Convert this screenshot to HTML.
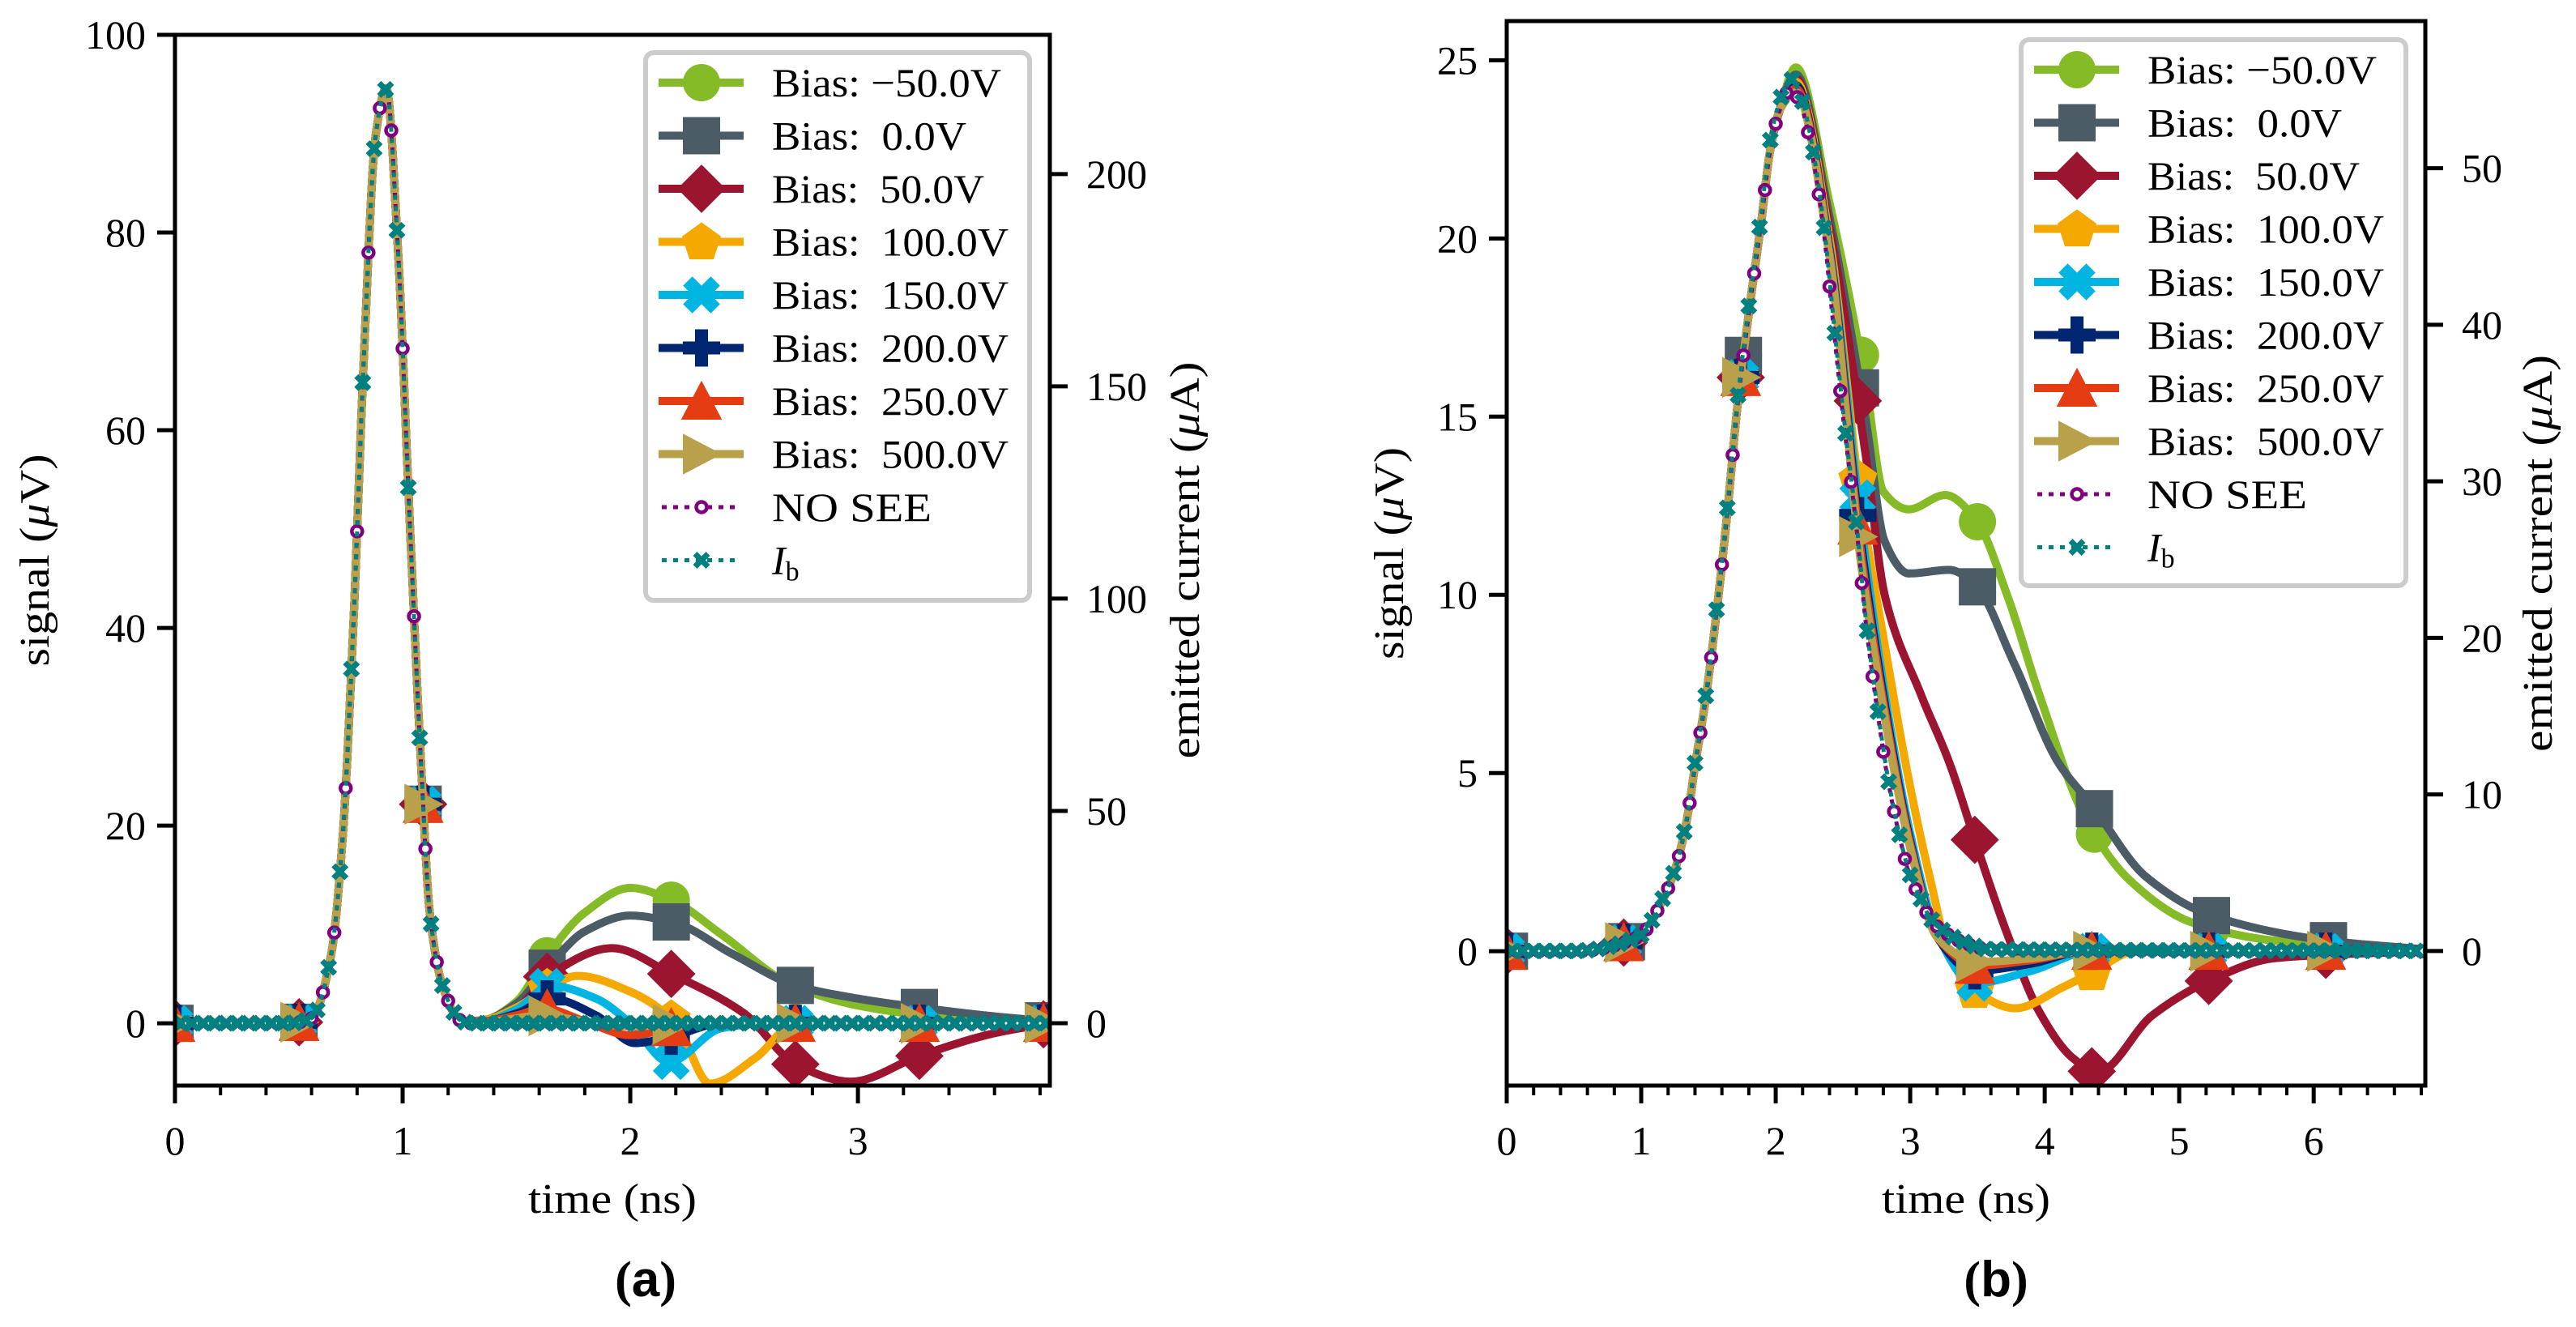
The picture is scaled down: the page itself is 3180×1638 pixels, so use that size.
<!DOCTYPE html>
<html><head><meta charset="utf-8"><style>
html,body{margin:0;padding:0;background:#fff;}
svg{display:block;font-family:"Liberation Serif",serif;}
</style></head><body>
<svg id="fig" xmlns="http://www.w3.org/2000/svg" width="3180" height="1638" viewBox="0 0 3180 1638"></svg>
<script>
// ---------- Panel (a) data ----------
const aMainT = [0,0.5,0.6,0.685,0.736,0.783,0.83,0.881,0.928,0.979,1.03,1.08,1.12,1.178,1.26,1.3];
const aMainV = [0,0,0.5,6.8,18.6,40,67.5,89.7,94.6,78.5,51.5,26.7,11,3.6,0.2,0];
const aTailT_m50 = [1.35,1.5,1.624,1.8,2.0,2.186,2.4,2.7,3.0,3.3,3.6,3.84];
const aTailV_m50 = [0.3,2.2,6.5,11.2,13.7,12.4,9.0,4.0,1.8,0.8,0.3,0];
const aTailT_0 = [1.35,1.5,1.636,1.8,2.0,2.19,2.45,2.73,3.0,3.27,3.6,3.84];
const aTailV_0 = [0.3,2.0,5.6,9.3,10.9,10.2,7.0,3.8,2.5,1.6,0.7,0.2];
const aTailT_50 = [1.35,1.5,1.64,1.92,2.18,2.5,2.73,2.97,3.27,3.6,3.84];
const aTailV_50 = [0.3,1.5,4.8,7.6,5.0,1.0,-4.2,-5.9,-3.3,-1.0,0];
const aTailT_100 = [1.35,1.5,1.65,1.77,2.0,2.2,2.35,2.55,2.73,3.0,3.84];
const aTailV_100 = [0.3,1.6,3.8,4.8,3.2,0,-6.1,-3.5,0,0,0];
const aTailT_150 = [1.35,1.5,1.65,1.85,2.0,2.17,2.4,2.6,3.84];
const aTailV_150 = [0.2,1.4,3.8,2.5,0,-3.9,-0.5,0,0];
const aTailT_200 = [1.35,1.5,1.65,1.85,2.02,2.2,2.4,3.84];
const aTailV_200 = [0.2,1.0,2.5,0.8,-2.0,-1.2,0,0];
const aTailT_250 = [1.35,1.5,1.62,1.8,2.0,2.3,3.84];
const aTailV_250 = [0.2,0.8,1.5,0.2,-1.2,0,0];
const aTailT_500 = [1.35,1.5,1.6,1.8,2.0,2.3,3.84];
const aTailV_500 = [0.1,0.5,0.8,0.2,-0.3,0,0];
const aIbT = [0,0.5,0.6,0.685,0.736,0.783,0.83,0.881,0.928,0.979,1.03,1.08,1.12,1.178,1.26,1.3,3.84];
const aIbV = [0,0,1.2,15.8,43.3,93,157,209,220,183,120,62,25.6,8.4,0.5,0,0]; // µA

// ---------- Panel (b) data ----------
const bRiseT = [0,0.5,0.978,1.18,1.26,1.34,1.40,1.48,1.56,1.64,1.71,1.80,1.89,1.96,2.03];
const bRiseV = [0,0,0.4,1.6,2.4,3.7,5.2,7.1,9.5,12.3,15.1,17.9,20.4,22.5,23.6];
const bMainT = [2.11,2.19,2.27,2.36,2.43,2.51,2.60,2.67,2.75,2.83,2.91,2.99,3.07,3.15,3.23,3.39,3.6,6.83];
const bMainV = [24.2,23.7,22.4,20.1,17.5,14.7,11.9,9.2,6.9,4.9,3.4,2.2,1.5,0.9,0.6,0.25,0.05,0];
const bTailT_m50 = [2.15,2.4,2.67,2.8,2.99,3.26,3.49,3.72,3.96,4.3,4.63,5.1,5.7,6.83];
const bTailV_m50 = [24.8,21.0,15.9,12.9,12.4,12.8,12.1,10.0,7.2,3.75,2.0,0.8,0.3,0];
const bTailT_0 = [2.15,2.4,2.67,2.81,2.99,3.29,3.48,3.77,4.1,4.35,4.75,5.24,6.1,6.83];
const bTailV_0 = [24.6,20.6,14.9,11.5,10.6,10.7,10.3,8.1,5.3,4.1,2.1,1.0,0.3,0.05];
const bTailT_50 = [2.15,2.4,2.67,2.81,3.08,3.29,3.5,3.72,3.96,4.21,4.39,4.8,5.24,5.7,6.1,6.83];
const bTailV_50 = [24.5,20.3,13.9,10.0,7.2,5.3,2.9,0.5,-1.7,-3.0,-3.4,-1.8,-0.8,-0.2,-0.1,0];
const bTailT_100 = [2.15,2.4,2.63,2.81,2.99,3.15,3.3,3.48,3.78,4.14,4.35,4.68,6.83];
const bTailV_100 = [24.4,20.0,12.7,8.6,4.8,2.0,-0.2,-1.1,-1.6,-1.0,-0.6,0,0];
const bTailT_150 = [2.15,2.4,2.63,2.8,3.0,3.2,3.47,3.9,4.35,6.83];
const bTailV_150 = [24.3,19.8,12.1,7.5,3.3,0.5,-0.9,-0.55,0,0];
const bTailT_200 = [2.15,2.4,2.63,2.8,3.0,3.2,3.47,3.9,4.3,6.83];
const bTailV_200 = [24.3,19.7,11.6,7.2,3.1,0.4,-0.55,-0.35,0,0];
const bTailT_250 = [2.15,2.4,2.63,2.8,3.0,3.2,3.5,3.9,4.3,6.83];
const bTailV_250 = [24.2,19.6,11.3,7.0,3.0,0.4,-0.4,-0.25,0,0];
const bTailT_500 = [2.15,2.4,2.63,2.8,3.0,3.2,3.5,3.9,4.3,6.83];
const bTailV_500 = [24.1,19.5,11.0,6.8,2.9,0.4,-0.3,-0.2,0,0];
const bIbT = [0,0.5,0.978,1.18,1.26,1.34,1.40,1.48,1.56,1.64,1.71,1.80,1.89,1.96,2.03,2.11,2.19,2.27,2.36,2.43,2.51,2.60,2.67,2.75,2.83,2.91,2.99,3.07,3.15,3.23,3.39,3.6,6.83];
const bIbV = [0,0,0.9,3.7,5.5,8.5,12,16.3,21.8,28.3,34.7,41.2,46.9,51.8,54.3,55.7,54.5,51.5,46.2,40.3,33.8,27.4,21.2,15.9,11.3,7.8,5.1,3.5,2.1,1.4,0.6,0.1,0]; // µA

const seriesLabels = ["Bias: \u221250.0V","Bias:  0.0V","Bias:  50.0V","Bias:  100.0V","Bias:  150.0V","Bias:  200.0V","Bias:  250.0V","Bias:  500.0V"];
const labelWidths = [283,240,262,292,292,292,292,292];
const seriesColors = ["#84bb26","#4b5c66","#9b1530","#f5a800","#00b5e2","#002672","#e63c14","#b9a04a"];
const seriesMarkers = ["circle","square","diamond","pentagon","X","P","triup","triright"];
const aTickX = [0,1,2,3], aTickY = [0,20,40,60,80,100], aTickR = [0,50,100,150,200];
const bTickX = [0,1,2,3,4,5,6], bTickY = [0,5,10,15,20,25], bTickR = [0,10,20,30,40,50];

// ---------- helpers ----------
const NS="http://www.w3.org/2000/svg";
const svg=document.getElementById('fig');
function mk(tag,attrs,parent){const e=document.createElementNS(NS,tag);for(const k in attrs)e.setAttribute(k,attrs[k]);(parent||svg).appendChild(e);return e;}
function interp(T,V){ // monotone cubic
  const n=T.length,d=[],m=[];
  for(let i=0;i<n-1;i++)d.push((V[i+1]-V[i])/(T[i+1]-T[i]));
  m[0]=d[0];m[n-1]=d[n-2];
  for(let i=1;i<n-1;i++){ if(d[i-1]*d[i]<=0)m[i]=0; else { const w1=2*(T[i+1]-T[i])+(T[i]-T[i-1]), w2=(T[i+1]-T[i])+2*(T[i]-T[i-1]); m[i]=(w1+w2)/(w1/d[i-1]+w2/d[i]);} }
  return function(t){
    if(t<=T[0])return V[0]; if(t>=T[n-1])return V[n-1];
    let i=0;while(t>T[i+1])i++;
    const h=T[i+1]-T[i],s=(t-T[i])/h,s2=s*s,s3=s2*s;
    return (2*s3-3*s2+1)*V[i]+(s3-2*s2+s)*h*m[i]+(-2*s3+3*s2)*V[i+1]+(s3-s2)*h*m[i+1];
  };
}
function marker(g,type,cx,cy,size,color,name){
  const r=size/2;let e;
  if(type==="circle")e=mk('circle',{cx:cx,cy:cy,r:r,fill:color},g);
  else if(type==="square")e=mk('rect',{x:cx-r,y:cy-r,width:size,height:size,fill:color},g);
  else {
    let pts;
    if(type==="diamond")pts=[[0,-1.3],[1.3,0],[0,1.3],[-1.3,0]];
    else if(type==="pentagon"){pts=[];for(let k=0;k<5;k++){const a=-Math.PI/2+k*2*Math.PI/5;pts.push([1.1*Math.cos(a),1.1*Math.sin(a)+0.05]);}}
    else if(type==="triup")pts=[[0,-1.1],[1.1,1],[-1.1,1]];
    else if(type==="triright")pts=[[1.1,0],[-1,-1.1],[-1,1.1]];
    else if(type==="P"){const a=0.35,b=1;pts=[[-a,-b],[a,-b],[a,-a],[b,-a],[b,a],[a,a],[a,b],[-a,b],[-a,a],[-b,a],[-b,-a],[-a,-a]];}
    else if(type==="X"){const q=0.35,b=1.05;const base=[[-q,-b],[q,-b],[q,-q],[b,-q],[b,q],[q,q],[q,b],[-q,b],[-q,q],[-b,q],[-b,-q],[-q,-q]];
      const c=Math.cos(Math.PI/4),s=Math.sin(Math.PI/4);pts=base.map(([x,y])=>[x*c-y*s,x*s+y*c]);}
    e=mk('polygon',{points:pts.map(([x,y])=>(cx+x*r)+','+(cy+y*r)).join(' '),fill:color},g);
  }
  
  
  return e;
}
function smallCircle(g,cx,cy,color,name){
  const e=mk('circle',{cx:cx,cy:cy,r:6.5,fill:'#fff',stroke:color,'stroke-width':4.5},g);
  
  
}
function smallX(g,cx,cy,color,name){
  const e=mk('path',{d:`M${cx-8},${cy-8}L${cx+8},${cy+8}M${cx-8},${cy+8}L${cx+8},${cy-8}`,stroke:color,'stroke-width':7,fill:'none'},g);
  
  
}
function txt(x,y,s,opts,parent){const e=mk('text',Object.assign({x:x,y:y,'font-size':50,'fill':'#000'},opts||{}),parent);e.textContent=s;return e;}

function panel(cfg){
  const g=mk('g',{});
  
  
  const X=t=>cfg.L+(t-cfg.x0)/(cfg.x1-cfg.x0)*(cfg.R-cfg.L);
  const Y=v=>cfg.B-(v-cfg.y0)/(cfg.y1-cfg.y0)*(cfg.B-cfg.T);
  const YR=v=>cfg.B-(v-cfg.r0)/(cfg.r1-cfg.r0)*(cfg.B-cfg.T);
  const clipId=cfg.name+'-clip';
  const cp=mk('clipPath',{id:clipId},g);mk('rect',{x:cfg.L,y:cfg.T,width:cfg.R-cfg.L,height:cfg.B-cfg.T},cp);
  const plot=mk('g',{'clip-path':`url(#${clipId})`},g);
  
  
  cfg.series.forEach((s,i)=>{
    const f=interp(s.T,s.V);
    const sg=mk('g',{},plot);
    
    
    let d='';for(let t=cfg.x0;t<=cfg.x1+1e-9;t+=0.004){d+=(d?'L':'M')+X(t).toFixed(1)+','+Y(f(t)).toFixed(1);}
    const p=mk('path',{d:d,fill:'none',stroke:seriesColors[i],'stroke-width':10,'stroke-linejoin':'round'},sg);
    
    
    for(let t=cfg.mOff[i];t<=cfg.x1+0.01;t+=cfg.mStep){marker(sg,seriesMarkers[i],X(t),Y(f(t)),46,seriesColors[i],'series-marker');}
  });
  const fn=interp(cfg.noT,cfg.noV);
  let d='';for(let t=cfg.x0;t<=cfg.x1+1e-9;t+=0.004){d+=(d?'L':'M')+X(t).toFixed(1)+','+Y(fn(t)).toFixed(1);}
  const ng=mk('g',{},plot);
  
  
  mk('path',{d:d,fill:'none',stroke:'#800080','stroke-width':5,'stroke-dasharray':'6,8'},ng);
  for(let t=0;t<=cfg.x1;t+=cfg.dStep)smallCircle(ng,X(t),Y(fn(t)),'#800080','no-see-marker');
  const fi=interp(cfg.ibT,cfg.ibV);
  d='';for(let t=cfg.x0;t<=cfg.x1+1e-9;t+=0.004){d+=(d?'L':'M')+X(t).toFixed(1)+','+YR(fi(t)).toFixed(1);}
  const ig=mk('g',{},plot);
  
  
  mk('path',{d:d,fill:'none',stroke:'#008080','stroke-width':5,'stroke-dasharray':'6,8'},ig);
  for(let t=cfg.dStep/2;t<=cfg.x1;t+=cfg.dStep)smallX(ig,X(t),YR(fi(t)),'#008080','ib-marker');
  const fr=mk('rect',{x:cfg.L,y:cfg.T,width:cfg.R-cfg.L,height:cfg.B-cfg.T,fill:'none',stroke:'#000','stroke-width':5},g);
  
  
  cfg.tickX.forEach(v=>{mk('line',{x1:X(v),x2:X(v),y1:cfg.B,y2:cfg.B+22,stroke:'#000','stroke-width':5},g);
    const t=txt(X(v),1425,String(v),{'text-anchor':'middle'},g);});
  for(let v=0;v<=cfg.x1;v+=0.2){if(Math.abs(v-Math.round(v))>1e-6)mk('line',{x1:X(v),x2:X(v),y1:cfg.B,y2:cfg.B+12,stroke:'#000','stroke-width':4},g);}
  cfg.tickY.forEach(v=>{mk('line',{x1:cfg.L-22,x2:cfg.L,y1:Y(v),y2:Y(v),stroke:'#000','stroke-width':5},g);
    const t=txt(cfg.L-36,Y(v)+17,String(v),{'text-anchor':'end'},g);});
  cfg.tickR.forEach(v=>{mk('line',{x1:cfg.R,x2:cfg.R+22,y1:YR(v),y2:YR(v),stroke:'#000','stroke-width':5},g);
    const t=txt(cfg.R+45,YR(v)+17,String(v),{'text-anchor':'start'},g);});
  let t=mk('text',{x:(cfg.L+cfg.R)/2,y:1497,'font-size':52,'text-anchor':'middle',textLength:208,lengthAdjust:'spacingAndGlyphs'},g);
  t.textContent='time (ns)';
  
  t=mk('text',{x:0,y:0,'font-size':52,'text-anchor':'middle',textLength:262,lengthAdjust:'spacingAndGlyphs',transform:`translate(${cfg.ylx},${(cfg.T+cfg.B)/2}) rotate(-90)`},g);
  t.innerHTML='signal (<tspan font-style="italic">\u03bc</tspan>V)';
  
  t=mk('text',{x:0,y:0,'font-size':52,'text-anchor':'middle',textLength:490,lengthAdjust:'spacingAndGlyphs',transform:`translate(${cfg.yrx},${(cfg.T+cfg.B)/2}) rotate(-90)`},g);
  t.innerHTML='emitted current (<tspan font-style="italic">\u03bc</tspan>A)';
  
  const lg=mk('g',{},g);
  
  
  mk('rect',{x:cfg.lgX,y:cfg.lgY,width:cfg.lgW,height:cfg.lgH,rx:10,fill:'#fff',stroke:'#cccccc','stroke-width':6},lg);
  const sx0=cfg.lgX+16,sx1=cfg.lgX+121,mx=cfg.lgX+69,tx=cfg.lgX+156;
  for(let i=0;i<10;i++){
    const y=cfg.lgY+37+i*cfg.lgStep;
    const eg=mk('g',{},lg);
    
    
    if(i<8){mk('line',{x1:sx0,x2:sx1,y1:y,y2:y,stroke:seriesColors[i],'stroke-width':10},eg);marker(eg,seriesMarkers[i],mx,y,46,seriesColors[i],'legend-marker');
      const te=txt(tx,y+17,seriesLabels[i],{textLength:labelWidths[i],lengthAdjust:'spacingAndGlyphs'},eg);te.setAttribute('style','white-space:pre');}
    else if(i===8){mk('line',{x1:sx0+4,x2:sx1-4,y1:y,y2:y,stroke:'#800080','stroke-width':5,'stroke-dasharray':'6,8'},eg);smallCircle(eg,mx,y,'#800080','legend-marker');txt(tx,y+17,'NO SEE',{textLength:197,lengthAdjust:'spacingAndGlyphs'},eg);}
    else {mk('line',{x1:sx0+4,x2:sx1-4,y1:y,y2:y,stroke:'#008080','stroke-width':5,'stroke-dasharray':'6,8'},eg);smallX(eg,mx,y,'#008080','legend-marker');
      const tt=mk('text',{x:tx,y:y+17,'font-size':50},eg);tt.innerHTML='<tspan font-style="italic">I</tspan><tspan font-size="34" dy="8">b</tspan>';}
  }
  t=mk('text',{x:cfg.capX,y:1600,'font-size':62,'text-anchor':'middle','font-weight':'bold'},g);
  t.innerHTML='(<tspan font-family="Liberation Sans, sans-serif">'+cfg.cap+'</tspan>)';
  
}

panel({name:'panel-a',L:216,R:1296,T:43,B:1340,x0:0,x1:3.843,y0:-6.3,y1:100,r0:-14.7,r1:232.8,
  series:[
    {T:aMainT.slice(0,15).concat(aTailT_m50),V:aMainV.slice(0,15).concat(aTailV_m50)},
    {T:aMainT.slice(0,15).concat(aTailT_0),V:aMainV.slice(0,15).concat(aTailV_0)},
    {T:aMainT.slice(0,15).concat(aTailT_50),V:aMainV.slice(0,15).concat(aTailV_50)},
    {T:aMainT.slice(0,15).concat(aTailT_100),V:aMainV.slice(0,15).concat(aTailV_100)},
    {T:aMainT.slice(0,15).concat(aTailT_150),V:aMainV.slice(0,15).concat(aTailV_150)},
    {T:aMainT.slice(0,15).concat(aTailT_200),V:aMainV.slice(0,15).concat(aTailV_200)},
    {T:aMainT.slice(0,15).concat(aTailT_250),V:aMainV.slice(0,15).concat(aTailV_250)},
    {T:aMainT.slice(0,15).concat(aTailT_500),V:aMainV.slice(0,15).concat(aTailV_500)}],
  mOff:[0,0,0,0,0,0,0,0],mStep:0.545,dStep:0.05,
  noT:aMainT.concat([3.84]),noV:aMainV.concat([0]),ibT:aIbT,ibV:aIbV,
  tickX:aTickX,tickY:aTickY,tickR:aTickR,ylx:60,yrx:1480,
  lgX:797,lgY:65,lgW:474,lgH:676,lgStep:65.5,capX:797,cap:'a'});

panel({name:'panel-b',L:1860,R:2994,T:26,B:1340,x0:0,x1:6.83,y0:-3.77,y1:26.1,r0:-8.6,r1:59.4,
  series:[
    {T:bRiseT.concat(bTailT_m50),V:bRiseV.concat(bTailV_m50)},
    {T:bRiseT.concat(bTailT_0),V:bRiseV.concat(bTailV_0)},
    {T:bRiseT.concat(bTailT_50),V:bRiseV.concat(bTailV_50)},
    {T:bRiseT.concat(bTailT_100),V:bRiseV.concat(bTailV_100)},
    {T:bRiseT.concat(bTailT_150),V:bRiseV.concat(bTailV_150)},
    {T:bRiseT.concat(bTailT_200),V:bRiseV.concat(bTailV_200)},
    {T:bRiseT.concat(bTailT_250),V:bRiseV.concat(bTailV_250)},
    {T:bRiseT.concat(bTailT_500),V:bRiseV.concat(bTailV_500)}],
  mOff:[0.02,0.02,0.0,0.0,0.0,0.0,0.0,0.0],mStep:0.87,dStep:0.08,
  noT:bRiseT.concat(bMainT),noV:bRiseV.concat(bMainV),ibT:bIbT,ibV:bIbV,
  tickX:bTickX,tickY:bTickY,tickR:bTickR,ylx:1732,yrx:3150,
  lgX:2495,lgY:49,lgW:475,lgH:674,lgStep:65.5,capX:2464,cap:'b'});
</script>
</body></html>
